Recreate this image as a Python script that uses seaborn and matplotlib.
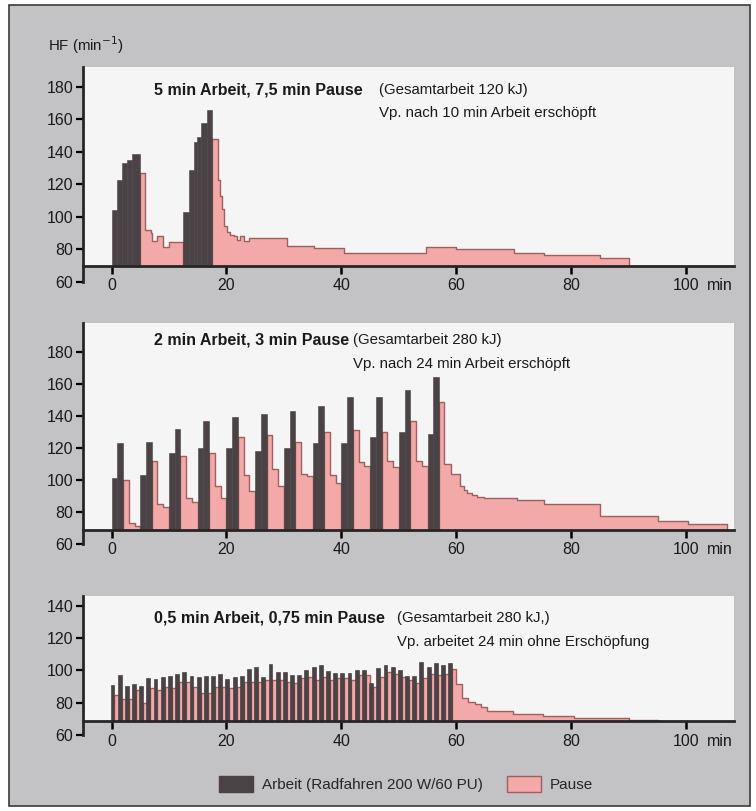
#!/usr/bin/env python3
"""
Herzfrequenz bei intermittierender Arbeit (Radfahren 200 W)
three panels: work (dark bars) and pause (pink steps)
"""

import numpy as np
import pandas as pd
import matplotlib
matplotlib.use("Agg")
import matplotlib.pyplot as plt
from matplotlib.patches import Patch, Rectangle
import seaborn as sns

# ============================================
# Data  (time in min, HF in 1/min)
# ============================================
nan = np.nan

# --- panel 1: 5 min Arbeit, 7,5 min Pause ---
p1_work_start = [0, 1, 1.8, 2.7, 3.6, 12.5, 13.5, 14.4, 14.9, 15.5, 16.6]
p1_work_end = [1, 1.8, 2.7, 3.6, 5, 13.5, 14.4, 14.9, 15.5, 16.6, 17.5]
p1_work_hf = [104, 123, 133, 135, 139, 103, 129, 146, 149, 158, 166]
# nan = work period (no pause fill)
p1_pause_edges = [0, 5, 5.9, 6.8, 7.1, 7.9, 9.0, 10.0, 12.5, 17.5, 18.6, 18.9,
                  19.2, 19.5, 20.1, 20.7, 21.3, 21.9, 22.4, 23.0, 23.9, 30.5,
                  35.2, 40.4, 54.8, 59.9, 70.0, 75.3, 85.0, 90.0]
p1_pause_hf = [nan, 127, 92, 90, 85, 88, 81.5, 84.5, nan, 148, 123, 113,
               105, 94.6, 90.8, 89, 88, 86, 88, 85.5, 87, 82,
               81, 78, 81.5, 80, 78, 76.5, 75]

# --- panel 2: 2 min Arbeit, 3 min Pause (1-min readings) ---
p2_work_min, p2_pause_min = 2, 3
p2_work_hf = [[101, 123], [103, 124], [117, 132], [120, 137], [120, 139],
              [118, 141], [120, 143], [123, 146], [123, 152], [127, 152],
              [130, 156], [129, 164]]
p2_pause_hf = [[100, 73, 71], [112, 85, 83], [115, 89, 86], [117, 96, 89],
               [127, 103, 93], [128, 107, 96], [124, 103.5, 102.5],
               [130, 103, 98], [131, 111, 109], [130, 112, 108],
               [137, 112, 109]]
p2_recovery_edges = [57, 57.8, 59.1, 60.7, 61.3, 61.9, 62.8, 63.6, 64.8,
                     70.5, 75.3, 85.0, 95.1, 100.3, 107]
p2_recovery_hf = [148.75, 110, 103.4, 96.3, 93.6, 91.9, 90.4, 89.4, 88.75,
                  87.3, 85.2, 77.5, 74.2, 72.3]

# --- panel 3: 0,5 min Arbeit, 0,75 min Pause ---
p3_work_min, p3_pause_min = 0.5, 0.75
p3_work_hf = [90.5, 96.4, 90, 91, 90, 94.7, 94, 95.4, 96, 97, 98.5, 96,
              95.4, 96, 95.8, 97.3, 94.3, 95.4, 95.8, 100.2, 101.3, 95.4,
              103.2, 98.5, 98.5, 96.8, 96.8, 99.6, 101.3, 102.7, 98.9, 97.9,
              97.9, 97.5, 99.6, 99.6, 91.6, 100.6, 102.7, 101.3, 99.6, 96.1,
              96, 104.3, 101.3, 104, 102.4, 104]
p3_pause_hf = [85, 82, 82, 88, 80, 89, 88, 90, 89, 93, 93, 90,
               86, 86, 90, 90, 89, 90, 93, 93, 93, 94, 94, 94,
               93, 92, 95, 96, 94, 96, 94, 95, 95, 94, 97, 97,
               90, 96, 99, 98, 96, 94, 92, 95, 98, 97, 98, 101]
p3_recovery_edges = [60, 61, 62, 63.2, 64.3, 65.4, 69.8, 75, 80.5, 90, 95]
p3_recovery_hf = [91.4, 83.2, 80.6, 79.1, 77.1, 75, 73, 71.6, 70.6, 69.5]

x_ticks = [0, 20, 40, 60, 80, 100]

# ============================================
# Style
# ============================================
W, H = 756, 811
DARK = "#4a4244"
PINK = "#f2a9a7"
PINK_EDGE = "#9e5f5f"
GRAY = "#c3c2c4"
WHITE = "#f5f5f6"
XLIM = (-4.96, 108.3)
TICK_FS = 11.5
TITLE_FS = 11.5
TEXT_FS = 10.8

sns.set_style("ticks")
plt.rcParams["font.family"] = ["Liberation Sans", "DejaVu Sans"]


def fx(px):
    return px / W


def fy(py):
    return 1 - py / H


def cycles(work_hf, pause_hf, work_min, pause_min, rec_edges, rec_hf):
    """Expand cycle readings into bar segments and a pause step series."""
    cycle = work_min + pause_min
    ws, we, wh = [], [], []
    edges, vals = [], []
    for k, steps in enumerate(work_hf):
        t0 = k * cycle
        d = work_min / len(steps)
        for i, v in enumerate(steps):
            ws.append(t0 + i * d)
            we.append(t0 + (i + 1) * d)
            wh.append(v)
        edges.append(t0)
        vals.append(nan)
        if k < len(pause_hf):
            p = np.atleast_1d(pause_hf[k])
            d = pause_min / len(p)
            for i, v in enumerate(p):
                edges.append(t0 + work_min + i * d)
                vals.append(v)
    edges += list(rec_edges[:-1])
    vals += list(rec_hf)
    edges.append(rec_edges[-1])
    return ws, we, wh, edges, vals


def draw_panel(ax, ws, we, wh, edges, vals, base, ylim, yticks, bar_lw=0.4):
    ax.set_facecolor("none")
    ax.axhspan(base, ylim[1], color=WHITE, lw=0, zorder=0)

    edges = np.asarray(edges, dtype=float)
    hf = np.where(np.isnan(np.asarray(vals, dtype=float)), base, vals)
    ax.fill_between(edges, base, np.append(hf, hf[-1]), step="post",
                    color=PINK, lw=0, zorder=2)
    outline = pd.DataFrame({"t": np.concatenate([[edges[0]], edges]),
                            "hf": np.concatenate([[base], hf, [base]])})
    sns.lineplot(data=outline, x="t", y="hf", drawstyle="steps-post",
                 color=PINK_EDGE, lw=1.0, estimator=None, sort=False,
                 ax=ax, zorder=3)

    ws = np.asarray(ws)
    ax.bar(ws, np.asarray(wh) - base, width=np.asarray(we) - ws, bottom=base,
           align="edge", color=DARK, edgecolor=DARK, lw=bar_lw, zorder=4)

    ax.set_xlim(*XLIM)
    ax.set_ylim(*ylim)
    ax.set_xlabel("")
    ax.set_ylabel("")
    sns.despine(ax=ax)
    ax.spines["bottom"].set_position(("data", base))
    ax.spines["bottom"].set_linewidth(2.0)
    ax.spines["bottom"].set_zorder(6)
    ax.spines["left"].set_linewidth(2.0)
    ax.set_xticks(x_ticks)
    ax.set_xticklabels([str(t) for t in x_ticks])
    ax.set_yticks(yticks)
    ax.tick_params(axis="x", direction="out", length=6, width=1.8, pad=3,
                   labelsize=TICK_FS, color="black", labelcolor="#1a1a1a")
    ax.tick_params(axis="y", direction="out", length=5, width=1.6, pad=2,
                   labelsize=TICK_FS, color="black", labelcolor="#1a1a1a")
    ax.annotate("min", xy=(105.8, base), xycoords="data", xytext=(0, -9),
                textcoords="offset points", ha="center", va="top",
                fontsize=TICK_FS, color="#1a1a1a")


# ============================================
# Figure
# ============================================
fig = plt.figure(figsize=(W / 100, H / 100), dpi=100)
fig.patch.set_facecolor("white")
fig.add_artist(Rectangle((fx(9), fy(806)), fx(750) - fx(9), fy(5) - fy(806),
                         transform=fig.transFigure, facecolor=GRAY,
                         edgecolor="#3a3a3a", lw=1.2, zorder=-1))

left, right = fx(83), fx(734)

# panel 1
ax1 = fig.add_axes([left, fy(282), right - left, fy(67) - fy(282)])
draw_panel(ax1, p1_work_start, p1_work_end, p1_work_hf,
           p1_pause_edges, p1_pause_hf, 70, (60, 192.3),
           [60, 80, 100, 120, 140, 160, 180])

# panel 2
ws, we, wh, ed, vl = cycles(p2_work_hf, p2_pause_hf, p2_work_min, p2_pause_min,
                            p2_recovery_edges, p2_recovery_hf)
ax2 = fig.add_axes([left, fy(544), right - left, fy(323) - fy(544)])
draw_panel(ax2, ws, we, wh, ed, vl, 69, (60, 198),
           [60, 80, 100, 120, 140, 160, 180])

# panel 3
ws, we, wh, ed, vl = cycles([[v] for v in p3_work_hf], p3_pause_hf,
                            p3_work_min, p3_pause_min,
                            p3_recovery_edges, p3_recovery_hf)
ax3 = fig.add_axes([left, fy(735), right - left, fy(596) - fy(735)])
draw_panel(ax3, ws, we, wh, ed, vl, 68.5, (60, 146),
           [60, 80, 100, 120, 140], bar_lw=1.2)

# --- texts ---
TXT = dict(va="center", color="#1a1a1a")
fig.text(fx(48), fy(45), "HF (min$^{-1}$)", fontsize=TEXT_FS, **TXT)

fig.text(fx(154), fy(90), "5 min Arbeit, 7,5 min Pause", fontsize=TITLE_FS,
         fontweight="bold", **TXT)
fig.text(fx(379), fy(90), "(Gesamtarbeit 120 kJ)", fontsize=TEXT_FS, **TXT)
fig.text(fx(379), fy(113), "Vp. nach 10 min Arbeit erschöpft",
         fontsize=TEXT_FS, **TXT)

fig.text(fx(154), fy(340), "2 min Arbeit, 3 min Pause", fontsize=TITLE_FS,
         fontweight="bold", **TXT)
fig.text(fx(353), fy(340), "(Gesamtarbeit 280 kJ)", fontsize=TEXT_FS, **TXT)
fig.text(fx(353), fy(364), "Vp. nach 24 min Arbeit erschöpft",
         fontsize=TEXT_FS, **TXT)

fig.text(fx(154), fy(618), "0,5 min Arbeit, 0,75 min Pause",
         fontsize=TITLE_FS, fontweight="bold", **TXT)
fig.text(fx(397), fy(618), "(Gesamtarbeit 280 kJ,)", fontsize=TEXT_FS, **TXT)
fig.text(fx(397), fy(642), "Vp. arbeitet 24 min ohne Erschöpfung",
         fontsize=TEXT_FS, **TXT)

# --- legend ---
handles = [Patch(facecolor=DARK, edgecolor=DARK,
                 label="Arbeit (Radfahren 200 W/60 PU)"),
           Patch(facecolor=PINK, edgecolor=PINK_EDGE, label="Pause")]
fig.legend(handles=handles, loc="center", bbox_to_anchor=(fx(406), fy(784)),
           ncol=2, frameon=False, fontsize=11, handlelength=2.2,
           handleheight=1.3, columnspacing=1.6, handletextpad=0.6)

fig.savefig("out.png", dpi=100, facecolor=fig.get_facecolor())
plt.close(fig)
